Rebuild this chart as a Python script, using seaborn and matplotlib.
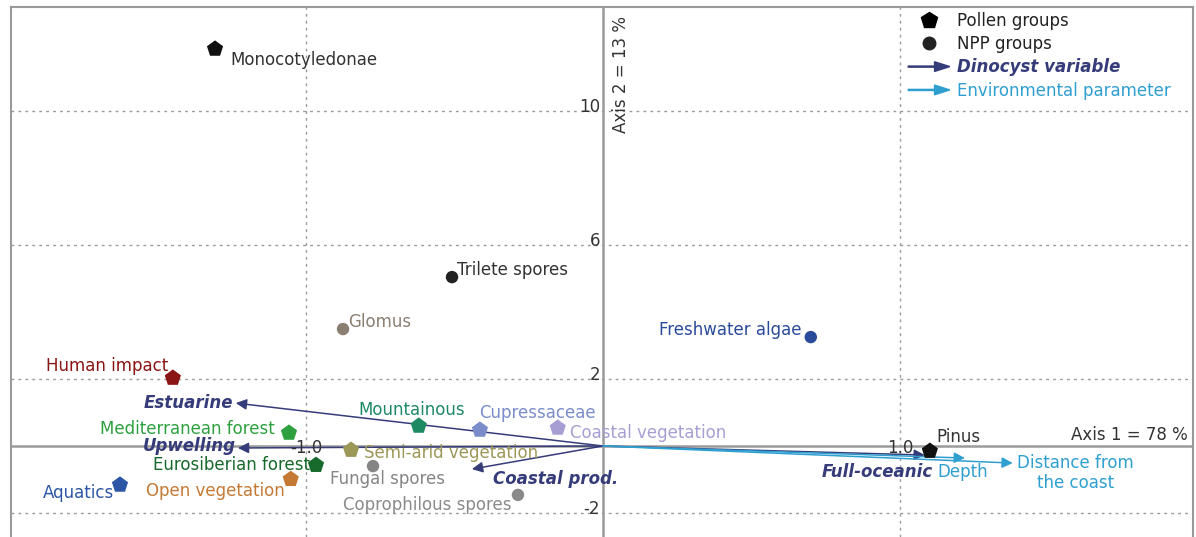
import numpy as np
import matplotlib
matplotlib.use("Agg")
import matplotlib.pyplot as plt
import matplotlib.patches as mpatches
from matplotlib.lines import Line2D
from matplotlib.legend_handler import HandlerPatch
import seaborn as sns

# pollen groups (pentagons)
pollen_names = ["Monocotyledonae", "Human impact", "Mediterranean forest", "Eurosiberian forest",
                "Open vegetation", "Aquatics", "Mountainous", "Cupressaceae",
                "Coastal vegetation", "Semi-arid vegetation", "Pinus"]
pollen_x = [-1.306, -1.448, -1.057, -0.966, -1.051, -1.626, -0.620, -0.414, -0.152, -0.848, 1.101]
pollen_y = [11.85, 2.03, 0.39, -0.57, -0.99, -1.16, 0.60, 0.48, 0.54, -0.12, -0.15]
pollen_colors = ["#111111", "#8b1414", "#2ea040", "#176a2c", "#c47a35", "#2b55a5",
                 "#1d8a64", "#7a8cca", "#a79fd3", "#9c9858", "#111111"]

# NPP groups (circles)
npp_names = ["Trilete spores", "Glomus", "Freshwater algae", "Fungal spores", "Coprophilous spores"]
npp_x = [-0.508, -0.875, 0.700, -0.774, -0.286]
npp_y = [5.04, 3.49, 3.25, -0.60, -1.46]
npp_colors = ["#222222", "#8a7f72", "#2a4a9a", "#858585", "#8a8a8a"]

# dinocyst variables (arrows)
dino_names = ["Estuarine", "Upwelling", "Coastal prod.", "Full-oceanic"]
dino_x = [-1.236, -1.229, -0.441, 1.084]
dino_y = [1.28, -0.06, -0.69, -0.27]

# environmental parameters (arrows)
env_names = ["Depth", "Distance from\nthe coast"]
env_x = [1.219, 1.380]
env_y = [-0.36, -0.51]

navy = "#363c7a"
cyan = "#2f9fd0"
grey = "#9a9a9a"

# label offsets in pixels (dx, dy, ha)
pollen_off = [(15, -11, "left"), (-5, 12, "right"), (-14, 4, "right"), (-6, 0, "right"),
              (-6, -12, "right"), (-6, -8, "right"), (-7, 16, "center"), (-1, 17, "left"),
              (12, -5, "left"), (13, -3, "left"), (7, 14, "left")]
npp_off = [(5, 7, "left"), (5, 7, "left"), (-9, 7, "right"), (-43, -13, "left"), (-6, -10, "right")]
dino_off = [(-3, 0, "right"), (-2, 2, "right"), (21, -10, "left"), (8, -17, "right")]
env_off = [(-28, -14, "left"), (4, -10, "left")]

sns.set_style("white")
plt.rcParams["font.family"] = ["DejaVu Sans"]

fig = plt.figure(figsize=(11.96, 5.37), dpi=100)
ax = fig.add_axes([11 / 1196, 0, 1182 / 1196, 530 / 537])
ax.set_xlim(-1.993, 1.987)
ax.set_ylim(-2.716, 13.10)

# grid and axes through origin
ax.set_xticks([-1, 1])
ax.set_yticks([-2, 2, 6, 10])
ax.tick_params(left=False, bottom=False, labelleft=False, labelbottom=False)
ax.grid(True, ls=(0, (2, 3)), color=grey, lw=1)
ax.axhline(0, color=grey, lw=1.8, zorder=1)
ax.axvline(0, color=grey, lw=1.8, zorder=1)
for side in ["left", "top", "right"]:
    ax.spines[side].set_color(grey)
    ax.spines[side].set_linewidth(1.5)
ax.spines["bottom"].set_visible(False)

# arrows
for names, xs, ys, offs, col, style in [(dino_names, dino_x, dino_y, dino_off, navy, "bold"),
                                        (env_names, env_x, env_y, env_off, cyan, "normal")]:
    for n, x, y, (dx, dy, ha) in zip(names, xs, ys, offs):
        ax.annotate("", xy=(x, y), xytext=(0, 0),
                    arrowprops=dict(arrowstyle="-|>", mutation_scale=16, lw=1.1, color=col,
                                    shrinkA=0, shrinkB=0), zorder=2)
        ax.annotate(n, xy=(x, y), xytext=(dx, dy), textcoords="offset pixels",
                    ha=ha, va="center", fontsize=12, color=col, fontweight=style,
                    fontstyle="italic" if style == "bold" else "normal",
                    multialignment="center", zorder=4)

# points
sns.scatterplot(x=pollen_x, y=pollen_y, hue=pollen_names, palette=dict(zip(pollen_names, pollen_colors)),
                marker="p", s=150, edgecolor="none", legend=False, ax=ax, zorder=3)
sns.scatterplot(x=npp_x, y=npp_y, hue=npp_names, palette=dict(zip(npp_names, npp_colors)),
                marker="o", s=80, edgecolor="none", legend=False, ax=ax, zorder=3)

for names, xs, ys, offs, cols in [(pollen_names, pollen_x, pollen_y, pollen_off, pollen_colors),
                                  (npp_names, npp_x, npp_y, npp_off, npp_colors)]:
    for n, x, y, (dx, dy, ha), c in zip(names, xs, ys, offs, cols):
        tc = "#333333" if c == "#111111" or c == "#222222" else c
        ax.annotate(n, xy=(x, y), xytext=(dx, dy), textcoords="offset pixels",
                    ha=ha, va="center", fontsize=12, color=tc, zorder=4)

# tick labels drawn on the axes
for v in [10, 6, 2, -2]:
    ax.annotate(str(v), xy=(0, v), xytext=(-3, 4), textcoords="offset pixels",
                ha="right", va="center", fontsize=12, color="#333333")
for v in [-1, 1]:
    ax.annotate(f"{v:.1f}", xy=(v, 0), xytext=(0, -2), textcoords="offset pixels",
                ha="center", va="center", fontsize=12, color="#333333")

ax.annotate("Axis 2 = 13 %", xy=(0, 11.1), xytext=(18, 0), textcoords="offset pixels",
            rotation=90, ha="center", va="center", fontsize=12, color="#333333")
ax.annotate("Axis 1 = 78 %", xy=(1.970, 0), xytext=(0, 11), textcoords="offset pixels",
            ha="right", va="center", fontsize=12, color="#333333")


# legend
def make_arrow(legend, orig_handle, xdescent, ydescent, width, height, fontsize):
    return mpatches.FancyArrow(0, height / 2, width, 0, width=0.8, head_width=7, head_length=11,
                               length_includes_head=True, color=orig_handle.get_facecolor())


h_dino = mpatches.Patch(color=navy)
h_env = mpatches.Patch(color=cyan)
handles = [Line2D([], [], marker="p", color="black", ls="", markersize=12),
           Line2D([], [], marker="o", color="#222222", ls="", markersize=9),
           h_dino, h_env]
labels = ["Pollen groups", "NPP groups", "Dinocyst variable", "Environmental parameter"]
leg = ax.legend(handles, labels, loc="upper left", frameon=False, fontsize=12,
                handlelength=2.5, handletextpad=0.42, labelspacing=0.32,
                borderaxespad=0, borderpad=0, bbox_to_anchor=(0.759, 0.991),
                handler_map={h_dino: HandlerPatch(patch_func=make_arrow),
                             h_env: HandlerPatch(patch_func=make_arrow)})
for t, c in zip(leg.get_texts(), ["#222222", "#222222", navy, cyan]):
    t.set_color(c)
leg.get_texts()[2].set_fontweight("bold")
leg.get_texts()[2].set_fontstyle("italic")

fig.savefig("out.png", dpi=100)
